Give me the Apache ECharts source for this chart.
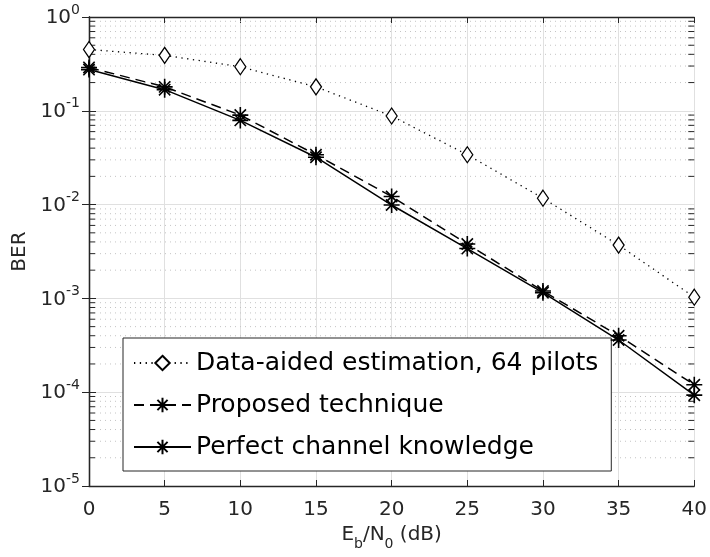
<!DOCTYPE html>
<html>
<head>
<meta charset="utf-8">
<script src="https://cdn.jsdelivr.net/npm/echarts@6/dist/echarts.min.js"></script>
<style>html,body{margin:0;padding:0;background:#fff}#c{width:710px;height:557px}</style>
</head>
<body>
<div id="c"></div>
<script>
const snr = [0, 5, 10, 15, 20, 25, 30, 35, 40];
const dataAided = [0.45, 0.39, 0.295, 0.18, 0.088, 0.034, 0.0117, 0.0037, 0.00103];
const proposed = [0.29, 0.18, 0.09, 0.034, 0.0122, 0.0038, 0.0012, 0.0004, 0.00012];
const perfect = [0.275, 0.168, 0.079, 0.032, 0.0099, 0.0034, 0.00115, 0.00036, 0.000093];
const seriesNames = ['Data-aided estimation, 64 pilots', 'Proposed technique', 'Perfect channel knowledge'];
const xTicks = [0, 5, 10, 15, 20, 25, 30, 35, 40];
const yDecades = [1e-5, 1e-4, 1e-3, 1e-2, 1e-1, 1];
const minorSteps = [2, 3, 4, 5, 6, 7, 8, 9];

const FONT = '"DejaVu Sans", sans-serif';
const AX = '#262626';
const star = 'path://M0,-10L0,10M-10,0L10,0M-7.07,-7.07L7.07,7.07M-7.07,7.07L7.07,-7.07';

function pairs(ys) { return snr.map((x, i) => [x, ys[i]]); }
const minorVals = [];
yDecades.slice(0, -1).forEach(d => minorSteps.forEach(k => minorVals.push([xTicks[0], k * d])));

const chart = echarts.init(document.getElementById('c'), null, {renderer: 'canvas'});

const yLabel = v => '{b|10}{s|' + Math.round(Math.log10(v)) + '}';
const yRich = {
  b: {fontSize: 20, fontFamily: FONT, color: AX, verticalAlign: 'bottom', lineHeight: 22},
  s: {fontSize: 14, fontFamily: FONT, color: AX, verticalAlign: 'bottom', lineHeight: 14, padding: [0, 0, 11, 0]}
};

const option = {
  animation: false,
  backgroundColor: '#fff',
  grid: {left: 89, right: 10, top: 17, bottom: 71, containLabel: false},
  legend: {
    orient: 'vertical',
    left: 123, top: 338,
    backgroundColor: '#fff',
    borderColor: AX, borderWidth: 1, borderRadius: 0,
    padding: [10, 13, 9, 10],
    itemWidth: 57, itemHeight: 18, itemGap: 12,
    textStyle: {fontSize: 25, lineHeight: 30, fontFamily: FONT, color: '#000'},
    data: seriesNames
  },
  xAxis: [{
    type: 'value', min: xTicks[0], max: xTicks[xTicks.length - 1], interval: 5,
    name: '{n|E}{sub|b}{n|/N}{sub|0}{n| (dB)}',
    nameLocation: 'middle', nameGap: 37,
    nameTextStyle: {
      rich: {
        n: {fontSize: 20, fontFamily: FONT, color: AX, verticalAlign: 'top', lineHeight: 22},
        sub: {fontSize: 14, fontFamily: FONT, color: AX, verticalAlign: 'top', lineHeight: 14, padding: [12, 0, 0, 0]}
      }
    },
    axisLine: {show: true, lineStyle: {color: AX, width: 1.3}},
    axisTick: {show: true, inside: true, length: 6, lineStyle: {color: AX}},
    axisLabel: {fontSize: 20, fontFamily: FONT, color: AX, margin: 14},
    splitLine: {show: true, lineStyle: {color: '#e0e0e0', width: 1}}
  }, {
    type: 'value', min: xTicks[0], max: xTicks[xTicks.length - 1], interval: 5, position: 'top',
    axisLine: {show: true, lineStyle: {color: AX, width: 1.3}},
    axisTick: {show: true, inside: true, length: 6, lineStyle: {color: AX}},
    axisLabel: {show: false}, splitLine: {show: false}
  }],
  yAxis: [{
    type: 'log', logBase: 10, min: yDecades[0], max: yDecades[yDecades.length - 1],
    name: 'BER', nameLocation: 'middle', nameGap: 56, nameRotate: 90,
    nameTextStyle: {fontSize: 20, fontFamily: FONT, color: AX},
    axisLine: {show: true, lineStyle: {color: AX, width: 1.3}},
    axisTick: {show: true, inside: true, length: 7, lineStyle: {color: AX}},
    axisLabel: {formatter: yLabel, rich: yRich, margin: 9},
    splitLine: {show: true, lineStyle: {color: '#e0e0e0', width: 1}}
  }, {
    type: 'log', logBase: 10, min: yDecades[0], max: yDecades[yDecades.length - 1], position: 'right',
    axisLine: {show: true, lineStyle: {color: AX, width: 1.3}},
    axisTick: {show: true, inside: true, length: 7, lineStyle: {color: AX}},
    axisLabel: {show: false}, splitLine: {show: false}
  }],
  series: [{
    name: 'minor', type: 'custom', data: minorVals, silent: true, z: 1,
    encode: {x: 0, y: 1},
    renderItem: function (params, api) {
      const v = api.value(1);
      const p0 = api.coord([xTicks[0], v]);
      const p1 = api.coord([xTicks[xTicks.length - 1], v]);
      return {type: 'group', children: [
        {type: 'line', shape: {x1: p0[0] + 1, y1: p0[1], x2: p1[0] - 1, y2: p1[1]},
         style: {stroke: '#c4c4c4', lineWidth: 1, lineDash: [1, 4]}},
        {type: 'line', shape: {x1: p0[0], y1: p0[1], x2: p0[0] + 6, y2: p0[1]},
         style: {stroke: AX, lineWidth: 1}},
        {type: 'line', shape: {x1: p1[0], y1: p1[1], x2: p1[0] - 6, y2: p1[1]},
         style: {stroke: AX, lineWidth: 1}}
      ]};
    }
  }, {
    name: seriesNames[0], type: 'line', data: pairs(dataAided),
    symbol: 'diamond', symbolSize: [11, 16],
    itemStyle: {color: '#fff', borderColor: '#000', borderWidth: 1.3},
    lineStyle: {color: '#000', width: 1.3, type: [1.3, 4.5]},
    z: 3
  }, {
    name: seriesNames[1], type: 'line', data: pairs(proposed),
    symbol: star, symbolSize: 16,
    itemStyle: {color: 'transparent', borderColor: '#000', borderWidth: 1.6},
    lineStyle: {color: '#000', width: 1.5, type: [10, 6]},
    z: 4
  }, {
    name: seriesNames[2], type: 'line', data: pairs(perfect),
    symbol: star, symbolSize: 16,
    itemStyle: {color: 'transparent', borderColor: '#000', borderWidth: 1.6},
    lineStyle: {color: '#000', width: 1.5, type: 'solid'},
    z: 5
  }]
};
chart.setOption(option);
</script>
</body>
</html>
